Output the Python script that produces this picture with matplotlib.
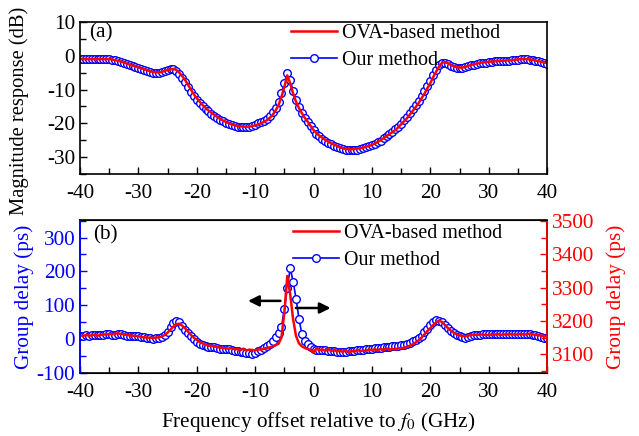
import numpy as np
import matplotlib
matplotlib.use("Agg")
import matplotlib.pyplot as plt
from matplotlib.ticker import MultipleLocator

plt.rcParams['font.family'] = ['Liberation Serif', 'DejaVu Serif']
plt.rcParams['mathtext.fontset'] = 'stix'
plt.rcParams['axes.unicode_minus'] = False

# ---------------- data (0.5 GHz grid, -40 ... 40 GHz) ----------------
freq = np.arange(-40, 40.001, 0.5)

mag_ova = [
    -1.0, -1.0, -1.0, -1.0, -1.0, -1.0, -1.0, -1.0, -1.0, -1.0,
    -1.0, -1.1, -1.3, -1.5, -1.7, -2.0, -2.3, -2.6, -2.9, -3.2,
    -3.4, -3.7, -4.0, -4.3, -4.6, -4.8, -4.9, -4.9, -4.8, -4.5,
    -4.2, -4.0, -3.9, -4.2, -5.0, -6.0, -7.2, -8.6, -10.0, -11.4,
    -12.6, -13.6, -14.6, -15.4, -16.2, -16.9, -17.5, -18.1, -18.7, -19.2,
    -19.6, -20.0, -20.3, -20.6, -20.8, -20.9, -21.0, -21.0, -21.0, -20.8,
    -20.6, -20.3, -20.0, -19.6, -19.1, -18.4, -17.5, -16.2, -14.6, -12.2,
    -9.2, -5.8, -8.2, -11.2, -13.6, -15.5, -17.0, -18.4, -19.5, -20.8,
    -22.0, -22.9, -23.7, -24.3, -24.9, -25.4, -25.9, -26.3, -26.7, -27.1,
    -27.4, -27.6, -27.7, -27.7, -27.6, -27.5, -27.4, -27.2, -26.9, -26.7,
    -26.4, -26.0, -25.5, -25.0, -24.4, -23.8, -23.2, -22.6, -22.0, -21.2,
    -20.3, -19.4, -18.5, -17.4, -16.3, -15.2, -14.0, -12.6, -11.2, -9.6,
    -8.1, -6.3, -4.7, -3.2, -2.1, -1.9, -2.2, -2.7, -3.1, -3.4,
    -3.5, -3.5, -3.3, -3.0, -2.7, -2.5, -2.3, -2.1, -2.0, -1.9,
    -1.8, -1.7, -1.6, -1.6, -1.5, -1.5, -1.4, -1.4, -1.3, -1.2,
    -1.1, -1.0, -1.0, -1.0, -1.1, -1.2, -1.4, -1.6, -1.8, -2.0,
    -2.2]

mag_ours = [
    -1.1, -1.0, -1.1, -1.0, -1.0, -1.1, -1.0, -0.9, -1.0, -1.0,
    -1.1, -1.2, -1.4, -1.6, -1.9, -2.2, -2.5, -2.8, -3.1, -3.3,
    -3.6, -3.9, -4.2, -4.5, -4.8, -5.0, -5.1, -5.0, -4.8, -4.5,
    -4.2, -4.0, -3.9, -4.4, -5.3, -6.5, -7.8, -9.2, -10.6, -11.9,
    -13.0, -14.0, -14.9, -15.7, -16.5, -17.2, -17.8, -18.4, -18.9, -19.4,
    -19.8, -20.2, -20.5, -20.8, -21.0, -21.1, -21.2, -21.1, -21.0, -20.7,
    -20.4, -20.0, -19.7, -19.2, -18.6, -17.8, -16.8, -15.4, -13.6, -11.0,
    -8.0, -5.0, -7.2, -10.4, -13.0, -15.2, -16.9, -18.3, -19.6, -20.9,
    -22.1, -23.1, -23.9, -24.6, -25.2, -25.7, -26.2, -26.6, -27.0, -27.4,
    -27.7, -27.9, -28.0, -28.0, -27.9, -27.8, -27.6, -27.4, -27.1, -26.8,
    -26.5, -26.1, -25.6, -25.1, -24.5, -23.9, -23.2, -22.5, -21.8, -21.0,
    -20.1, -19.1, -18.1, -17.0, -15.9, -14.7, -13.4, -12.0, -10.5, -8.9,
    -7.4, -5.7, -4.1, -2.8, -2.0, -2.0, -2.4, -2.9, -3.3, -3.6,
    -3.7, -3.6, -3.4, -3.1, -2.8, -2.6, -2.4, -2.2, -2.1, -2.0,
    -1.9, -1.8, -1.7, -1.7, -1.6, -1.6, -1.5, -1.5, -1.4, -1.3,
    -1.2, -1.1, -1.1, -1.1, -1.2, -1.3, -1.5, -1.7, -1.9, -2.2,
    -2.4]

gd_ours = [
    10, 10, 11, 10, 11, 12, 11, 12, 13, 14,
    15, 13, 12, 14, 14, 12, 10, 9, 9, 8,
    8, 6, 5, 3, 2, 1, 2, 3, 5, 12,
    22, 35, 47, 53, 50, 40, 28, 18, 8, 0,
    -9, -13, -17, -20, -22, -23, -22, -26, -30, -30,
    -28, -30, -32, -34, -36, -37, -38, -40, -41, -43,
    -40, -36, -32, -27, -21, -14, -5, 5, 18, 35,
    90, 150, 210, 170, 120, 60, 15, -5, -15, -23,
    -30, -32, -33, -33, -33, -34, -35, -36, -37, -37,
    -38, -37, -36, -35, -34, -33, -32, -31, -30, -29,
    -28, -27, -26, -25, -24, -23, -22, -21, -20, -19,
    -18, -16, -13, -10, -6, -2, 2, 10, 20, 30,
    41, 50, 56, 55, 51, 42, 32, 25, 19, 13,
    8, 5, 4, 6, 9, 11, 12, 13, 14, 15,
    15, 15, 14, 15, 15, 15, 16, 15, 15, 15,
    15, 14, 15, 16, 15, 13, 11, 9, 6, 4,
    2]

gd_ova = [
    3157, 3155, 3158, 3156, 3157, 3159, 3156, 3158, 3160, 3159,
    3161, 3160, 3162, 3163, 3161, 3160, 3158, 3157, 3156, 3155,
    3154, 3152, 3151, 3150, 3150, 3149, 3150, 3151, 3153, 3158,
    3165, 3174, 3183, 3190, 3192, 3186, 3178, 3168, 3158, 3150,
    3143, 3137, 3133, 3129, 3126, 3125, 3124, 3122, 3120, 3119,
    3118, 3117, 3119, 3115, 3116, 3113, 3117, 3112, 3114, 3113,
    3112, 3115, 3114, 3117, 3119, 3121, 3124, 3127, 3132, 3150,
    3225, 3335, 3280, 3205, 3155, 3133, 3124, 3119, 3116, 3113,
    3106, 3118, 3112, 3115, 3110, 3117, 3109, 3114, 3108, 3112,
    3107, 3113, 3105, 3110, 3108, 3114, 3109, 3112, 3110, 3115,
    3112, 3116, 3111, 3117, 3113, 3118, 3114, 3116, 3115, 3118,
    3118, 3120, 3122, 3126, 3130, 3136, 3142, 3150, 3160, 3170,
    3178, 3188, 3196, 3201, 3197, 3188, 3179, 3171, 3165, 3160,
    3157, 3155, 3154, 3156, 3158, 3159, 3158, 3160, 3159, 3158,
    3158, 3160, 3159, 3161, 3158, 3160, 3159, 3161, 3160, 3159,
    3160, 3161, 3159, 3160, 3162, 3160, 3158, 3157, 3156, 3155,
    3153]

legend_labels = ["OVA-based method", "Our method"]

BLUE = (0, 0, 1)
RED = (1, 0, 0)
FS = 15.3
LFS = 14.4

fig = plt.figure(figsize=(6.39, 4.36), dpi=100)
ax1 = fig.add_axes([0.1252, 0.601, 0.731, 0.3486])
ax2 = fig.add_axes([0.1252, 0.1445, 0.731, 0.351])
ax3 = ax2.twinx()

mk = dict(marker='o', markersize=5.5, markerfacecolor='white',
          markeredgecolor=BLUE, markeredgewidth=1.0, color=BLUE, lw=1.2)

# ---- (a) ----
hb, = ax1.plot(freq, mag_ours, **mk)
hr, = ax1.plot(freq, mag_ova, color=RED, lw=1.8)
ax1.set_xlim(-40, 40)
ax1.set_ylim(-35, 10)
ax1.set_ylabel("Magnitude response (dB)", fontsize=14.8)
ax1.yaxis.set_label_coords(-0.109, 0.415)
ax1.text(0.02, 0.928, "(a)", transform=ax1.transAxes, fontsize=FS, va='center')
ax1.legend([hr, hb], legend_labels, loc='upper left', bbox_to_anchor=(0.452, 0.985),
           frameon=False, fontsize=LFS, borderpad=0.0, borderaxespad=0.0,
           handlelength=2.3, handletextpad=0.25, labelspacing=0.4)

# ---- (b) ----
hb2, = ax2.plot(freq, gd_ours, **mk)
hr2, = ax3.plot(freq, gd_ova, color=RED, lw=1.8)
ax2.set_xlim(-40, 40)
ax2.set_ylim(-100, 352)
ax3.set_ylim(3044, 3503)
ax2.set_ylabel("Group delay (ps)", fontsize=FS, color=BLUE)
ax2.yaxis.set_label_coords(-0.098, 0.5)
ax3.set_ylabel("Group delay (ps)", fontsize=FS, color=RED, rotation=90)
ax3.yaxis.set_label_coords(1.127, 0.5)
ax2.set_xlabel("Frequency offset relative to $f_0$ (GHz)", fontsize=FS)
ax2.xaxis.set_label_coords(0.51, -0.245)
ax2.text(0.028, 0.90, "(b)", transform=ax2.transAxes, fontsize=FS, va='center')
ax3.legend([hr2, hb2], legend_labels, loc='upper left', bbox_to_anchor=(0.457, 0.975),
           frameon=False, fontsize=LFS, borderpad=0.0, borderaxespad=0.0,
           handlelength=2.3, handletextpad=0.25, labelspacing=0.4)

# arrows
arrow = dict(arrowstyle='-|>', color='black', lw=1.8, mutation_scale=16)
ax2.annotate("", xy=(-11.7, 113), xytext=(-5.2, 113), arrowprops=arrow)
ax2.annotate("", xy=(3.4, 92), xytext=(-3.5, 92), arrowprops=arrow)

# ---- ticks / spines ----
for ax in (ax1, ax2):
    ax.xaxis.set_major_locator(MultipleLocator(10))
    ax.xaxis.set_minor_locator(MultipleLocator(5))
    ax.tick_params(axis='x', which='both', direction='in', top=False, labelsize=FS, pad=7)
    ax.tick_params(axis='x', which='major', length=5, width=1)
    ax.tick_params(axis='x', which='minor', length=4, width=1)
    for s in ax.spines.values():
        s.set_linewidth(1.2)

ax1.yaxis.set_major_locator(MultipleLocator(10))
ax1.yaxis.set_minor_locator(MultipleLocator(5))
ax1.tick_params(axis='y', which='both', direction='in', right=False, labelsize=FS)
ax1.tick_params(axis='y', which='major', length=5, width=1)
ax1.tick_params(axis='y', which='minor', length=4, width=1)

ax2.yaxis.set_major_locator(MultipleLocator(100))
ax2.yaxis.set_minor_locator(MultipleLocator(50))
ax2.tick_params(axis='y', which='both', direction='in', labelsize=FS,
                colors=BLUE, right=False)
ax2.tick_params(axis='y', which='major', length=5, width=1)
ax2.tick_params(axis='y', which='minor', length=4, width=1)
ax2.spines['left'].set_color(BLUE)

ax3.yaxis.set_major_locator(MultipleLocator(100))
ax3.yaxis.set_minor_locator(MultipleLocator(50))
ax3.tick_params(axis='y', which='both', direction='in', labelsize=FS, colors=RED)
ax3.tick_params(axis='y', which='major', length=5, width=1)
ax3.tick_params(axis='y', which='minor', length=4, width=1)
ax3.spines['right'].set_color(RED)
ax3.spines['left'].set_color(BLUE)
ax3.spines['right'].set_linewidth(1.2)
ax3.spines['left'].set_linewidth(1.2)

fig.savefig("out.png", dpi=100)
